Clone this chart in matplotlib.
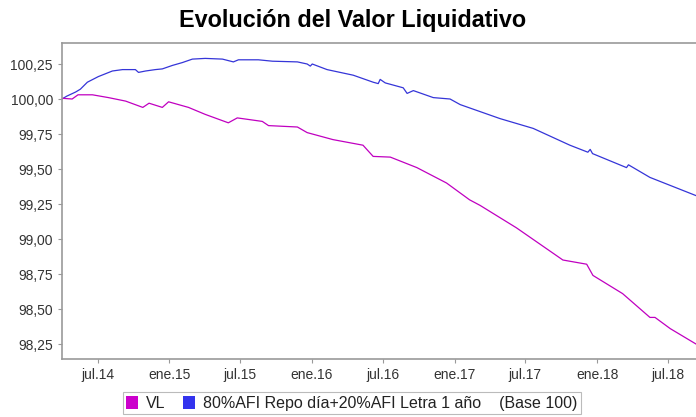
import matplotlib
matplotlib.use("Agg")
from matplotlib import pyplot as plt
from matplotlib.patches import Patch
import numpy as np

plt.rcParams['font.family'] = ['Liberation Sans', 'DejaVu Sans']

# VL series (fund net asset value, base 100)
vl_dates = ['2014-04-02', '2014-04-27', '2014-05-12', '2014-06-18', '2014-07-29',
            '2014-09-11', '2014-10-25', '2014-11-10', '2014-12-14', '2014-12-30',
            '2015-02-19', '2015-04-03', '2015-06-01', '2015-06-24', '2015-08-27',
            '2015-09-12', '2015-11-25', '2015-12-20', '2016-02-24', '2016-05-11',
            '2016-06-06', '2016-07-20', '2016-09-26', '2016-12-11', '2017-02-08',
            '2017-03-07', '2017-06-08', '2017-10-05', '2017-12-05', '2017-12-21',
            '2018-03-07', '2018-05-16', '2018-05-29', '2018-07-07', '2018-09-11']
vl_values = [100.005, 100.00, 100.03, 100.03, 100.01,
             99.985, 99.94, 99.97, 99.94, 99.98,
             99.94, 99.89, 99.83, 99.865, 99.84,
             99.81, 99.80, 99.76, 99.71, 99.67,
             99.59, 99.585, 99.51, 99.40, 99.28,
             99.24, 99.08, 98.85, 98.82, 98.74,
             98.61, 98.44, 98.44, 98.36, 98.25]

# benchmark series
bm_dates = ['2014-04-01', '2014-04-13', '2014-05-06', '2014-05-18', '2014-06-05',
            '2014-07-03', '2014-07-21', '2014-08-08', '2014-09-03', '2014-10-06',
            '2014-10-14', '2014-11-01', '2014-11-26', '2014-12-14', '2015-01-09',
            '2015-02-03', '2015-03-01', '2015-04-03', '2015-05-17', '2015-06-14',
            '2015-06-27', '2015-08-17', '2015-09-22', '2015-11-25', '2015-12-20',
            '2015-12-28', '2016-01-02', '2016-02-09', '2016-04-16', '2016-06-06',
            '2016-06-19', '2016-06-24', '2016-07-07', '2016-08-22', '2016-09-01',
            '2016-09-17', '2016-11-07', '2016-12-20', '2017-01-15', '2017-03-07',
            '2017-04-27', '2017-07-21', '2017-10-23', '2017-12-08', '2017-12-14',
            '2017-12-20', '2018-03-17', '2018-03-22', '2018-05-16', '2018-09-11']
bm_values = [100.00, 100.02, 100.05, 100.07, 100.12,
             100.16, 100.18, 100.20, 100.21, 100.21,
             100.19, 100.20, 100.21, 100.215, 100.24,
             100.26, 100.285, 100.29, 100.285, 100.265,
             100.28, 100.28, 100.27, 100.265, 100.25,
             100.235, 100.25, 100.21, 100.17, 100.12,
             100.11, 100.14, 100.115, 100.08, 100.04,
             100.06, 100.01, 100.00, 99.96, 99.91,
             99.86, 99.79, 99.67, 99.62, 99.64,
             99.61, 99.51, 99.53, 99.44, 99.31]

x_tick_dates = ['2014-07-01', '2015-01-01', '2015-07-01', '2016-01-01', '2016-07-01',
                '2017-01-01', '2017-07-01', '2018-01-01', '2018-07-01']
x_tick_labels = ['jul.14', 'ene.15', 'jul.15', 'ene.16', 'jul.16',
                 'ene.17', 'jul.17', 'ene.18', 'jul.18']
y_ticks = [98.25, 98.50, 98.75, 99.00, 99.25, 99.50, 99.75, 100.00, 100.25]

vl_color = '#C000C0'
bm_color = '#3535D8'

fig = plt.figure(figsize=(6.96, 4.17), dpi=100)
ax = fig.add_axes([62 / 696, 1 - 359 / 417, 634 / 696, 316 / 417])

ax.plot(np.array(bm_dates, dtype='datetime64[D]'), bm_values, color=bm_color, lw=0.9)
ax.plot(np.array(vl_dates, dtype='datetime64[D]'), vl_values, color=vl_color, lw=0.9)

ax.set_xlim(np.datetime64('2014-04-01'), np.datetime64('2018-09-11'))
ax.set_ylim(98.143, 100.40)
ax.set_xticks(np.array(x_tick_dates, dtype='datetime64[D]'))
ax.set_xticklabels(x_tick_labels)
ax.set_yticks(y_ticks)
ax.set_yticklabels([f'{v:.2f}'.replace('.', ',') for v in y_ticks])
ax.tick_params(labelsize=10, colors='#999999', labelcolor='#333333', length=3, width=0.8)

for side in ('left', 'bottom', 'top'):
    ax.spines[side].set_color('#999999')
    ax.spines[side].set_linewidth(1.2)
ax.spines['right'].set_visible(False)

fig.text(353 / 696, 1 - 27 / 417, 'Evolución del Valor Liquidativo', ha='center', va='baseline',
         fontsize=16.8, fontweight='bold')

handles = [Patch(facecolor='#CC00CC', edgecolor='none'),
           Patch(facecolor='#3333EE', edgecolor='none')]
labels = ['VL', '80%AFI Repo día+20%AFI Letra 1 año    (Base 100)']
leg = fig.legend(handles, labels, loc='lower center', bbox_to_anchor=(352 / 696, 3 / 417),
                 ncol=2, fontsize=11.5, frameon=True, fancybox=False, handlelength=0.75,
                 handleheight=0.9, handletextpad=0.5, columnspacing=1.1, borderpad=0.2,
                 borderaxespad=0)
leg.get_frame().set_edgecolor('#aaaaaa')
leg.get_frame().set_linewidth(0.8)
for t in leg.get_texts():
    t.set_color('#222222')

fig.savefig('out.png', dpi=100)
